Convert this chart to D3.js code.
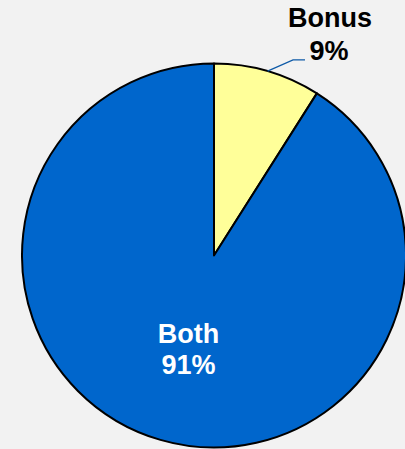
<!DOCTYPE html>
<html>
<head>
<meta charset="utf-8">
<script src="https://cdn.jsdelivr.net/npm/d3@7"></script>
<style>
  html, body { margin: 0; padding: 0; background: #f2f2f2; }
  svg { display: block; }
  text { font-family: Arial, "Liberation Sans", sans-serif; font-weight: bold; }
</style>
</head>
<body>
<svg id="chart" width="405" height="449"></svg>
<script>
// Share of payments by type
const categories = ["Bonus", "Both"];
const values = [9, 91];
const colors = ["#ffff99", "#0066cc"];
const labelColors = ["#000000", "#ffffff"];

const width = 405, height = 449;
const cx = 214, cy = 255.5, radius = 192;

const svg = d3.select("#chart");
svg.append("rect").attr("width", width).attr("height", height).attr("fill", "#f2f2f2");

const g = svg.append("g").attr("transform", `translate(${cx},${cy})`);

const pie = d3.pie().sort(null).value(d => d.value);
const data = categories.map((c, i) => ({ name: c, value: values[i], color: colors[i], labelColor: labelColors[i] }));
const arcs = pie(data);
const total = d3.sum(values);

const arc = d3.arc().innerRadius(0).outerRadius(radius);

g.selectAll("path.slice")
  .data(arcs)
  .join("path")
  .attr("class", "slice")
  .attr("d", arc)
  .attr("fill", d => d.data.color)
  .attr("stroke", "#000")
  .attr("stroke-width", 2)
  .attr("stroke-linejoin", "round");

const fontSize = 27;
const pct = d => Math.round(d.data.value / total * 100) + "%";

// Inside label for the large slice
const inside = arcs[1];
const insideArc = d3.arc().innerRadius(0).outerRadius(2 * 106);
const [ix, iy] = insideArc.centroid(inside);
const tIn = g.append("text")
  .attr("text-anchor", "middle")
  .attr("font-size", fontSize)
  .attr("fill", inside.data.labelColor);
tIn.append("tspan").attr("x", ix + 4).attr("y", iy - 14).text(inside.data.name);
tIn.append("tspan").attr("x", ix + 4).attr("y", iy + 17).text(pct(inside));

// Outside label with leader line for the small slice
const outside = arcs[0];
const mid = (outside.startAngle + outside.endAngle) / 2;
const p0 = [radius * Math.sin(mid), -radius * Math.cos(mid)];
const elbowAngle = 22 * Math.PI / 180, elbowR = 211;
const p1 = [elbowR * Math.sin(elbowAngle), -elbowR * Math.cos(elbowAngle)];
const p2 = [p1[0] + 12, p1[1]];
g.append("polyline")
  .attr("points", [p0, p1, p2].map(p => p.join(",")).join(" "))
  .attr("fill", "none")
  .attr("stroke", "#0e5aa7")
  .attr("stroke-width", 1.3);

const tOut = g.append("text")
  .attr("text-anchor", "middle")
  .attr("font-size", fontSize)
  .attr("fill", outside.data.labelColor);
tOut.append("tspan").attr("x", p2[0] + 25).attr("y", p2[1] - 32.6).text(outside.data.name);
tOut.append("tspan").attr("x", p2[0] + 24).attr("y", p2[1]).text(pct(outside));
</script>
</body>
</html>
